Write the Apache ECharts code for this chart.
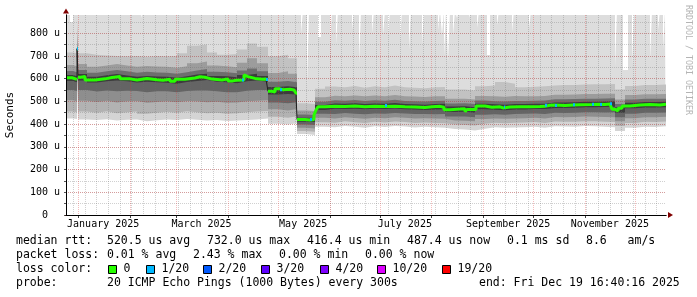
<!DOCTYPE html>
<html><head><meta charset="utf-8">
<script src="https://cdn.jsdelivr.net/npm/echarts@6/dist/echarts.min.js"></script>
<style>html,body{margin:0;padding:0;background:#fff}#c{width:697px;height:297px}</style>
</head><body><div id="c"></div>
<script>
// x values are days since 2025-01-01 00:00 (360-day window ending Fri Dec 19 16:40:16 2025)
const startDay = -7.3056;
const endDay = 352.6944;
const rrdStepDays = 0.6; // consolidation step of the 360-day graph

const yTickValues = [0, 100, 200, 300, 400, 500, 600, 700, 800];
const yMinorValues = [0, 50, 100, 150, 200, 250, 300, 350, 400, 450, 500, 550, 600, 650, 700, 750, 800, 850];
const monthStartDays = [0, 31, 59, 90, 120, 151, 181, 212, 243, 273, 304, 334];
const monthLabelDays = [15, 74, 135, 196, 258, 319];
const monthLabels = ['January 2025', 'March 2025', 'May 2025', 'July 2025', 'September 2025', 'November 2025'];

// smoke columns (left edge, days)
const smokeDays = [-7.3056, -3, -0.7, -0.1, 5, 11, 17, 23, 29, 35, 41, 47, 53, 59, 65, 71, 77, 83, 89, 95, 101, 107,
  114, 120, 126,
  131, 136.5,
  142, 148, 154, 160, 166, 172, 178, 184, 190, 196, 202, 208, 214, 220, 226, 232, 238, 244, 250, 256, 262, 268, 274, 280, 286, 292, 298, 304, 310, 316, 322, 328, 334, 340, 346];

// sorted ping ranks (microseconds)
const rttP1 = [425,422,595,420,418,421,416,419,420,412,417,420,418,422,419,416,418,414,416,418,420,425,
  402,398,404, 356,352,
  388,386,392,388,384,390,387,392,389,385,388,386,384,378,376,372,380,386,384,385,386,388,384,390,389,388,392,390,388,386,370,384,388,387,390];
const rttP3 = [455,452,640,455,450,456,448,452,455,446,450,454,450,456,452,448,450,446,448,452,455,458,
  432,428,435, 370,366,
  408,406,412,408,405,410,407,411,409,405,407,405,404,398,396,394,402,406,404,406,407,409,405,411,410,410,413,412,410,409,392,405,410,409,411];
const rttP5 = [505,500,680,503,497,503,495,500,502,494,497,500,496,502,500,496,498,494,495,500,503,505,
  465,460,466, 384,381,
  428,425,430,427,424,428,426,430,428,425,426,425,424,416,415,412,422,425,423,425,426,428,425,431,430,431,433,432,431,430,412,426,430,430,432];
const rttP7 = [550,546,710,550,543,548,545,547,546,540,544,545,540,546,548,548,545,540,540,547,550,550,
  495,492,496, 398,396,
  446,444,449,446,443,447,445,449,447,444,444,443,444,433,433,430,441,443,441,444,445,447,444,450,449,450,452,452,451,452,430,446,450,450,451];
const rttP9 = [590,584,725,592,583,589,592,588,583,586,584,582,578,585,590,594,586,584,580,588,592,586,
  530,532,530, 410,409,
  462,467,466,468,465,467,466,469,465,464,462,464,465,453,454,450,465,463,461,464,464,466,466,471,471,472,474,474,475,476,450,470,473,473,474];
const rttP12 = [616,610,745,620,608,615,620,614,608,612,609,608,604,610,618,622,612,610,606,616,622,612,
  563,566,562, 428,427,
  484,491,489,492,488,491,489,493,488,487,485,488,489,477,478,474,490,487,485,488,488,489,490,495,495,496,498,498,499,500,474,494,497,497,498];
const rttP14 = [634,628,790,638,626,632,638,632,626,630,627,626,622,628,636,642,630,628,624,636,645,632,
  586,590,584, 442,440,
  498,505,503,506,502,505,503,507,502,501,499,502,503,491,492,488,504,501,499,502,502,503,504,509,509,510,512,512,513,514,488,508,511,511,512];
const rttP16 = [660,654,830,664,652,658,664,658,652,656,653,652,648,655,668,675,658,654,650,670,690,668,
  625,632,622, 460,458,
  518,525,523,526,522,526,523,528,522,521,519,522,523,511,512,508,524,522,520,524,522,523,524,529,529,530,532,532,533,534,508,528,531,531,532];
const rttP18 = [715,712,860,712,705,702,700,698,700,696,700,698,700,712,745,750,715,705,708,728,755,740,
  698,705,690, 492,488,
  556,565,562,568,560,566,562,570,562,560,558,562,563,552,552,548,566,570,585,578,562,564,566,570,572,572,574,575,575,576,552,568,572,572,574];

// max ping: above the chart top (900) except in these short intervals
const maxAbove = 900;
const maxNotchStart = [-4.9, 37.7, 133.7, 137.3, 143.9, 151.1, 154.7, 164.3, 168.5, 176.3, 182.9, 185.9, 193.1, 198.5, 206.3, 215.9, 218.3, 219.5, 221.9, 224.9, 227.3, 234.5, 239.3, 245.3, 251.3, 260.3, 270.5, 322.1, 326.9, 332.3, 343.1, 347.9, 350.9];
const maxNotchEnd   = [-3.4, 38.6, 134.9, 138.5, 145.7, 152.0, 155.6, 165.2, 169.4, 177.2, 183.8, 186.8, 194.0, 199.4, 207.2, 216.8, 219.2, 220.4, 222.8, 225.8, 228.2, 235.4, 240.2, 246.8, 252.2, 261.2, 271.4, 323.0, 329.9, 333.2, 344.0, 348.8, 351.8];
const maxNotchRtt   = [849, 867, 800, 567, 783, 748, 752, 814, 668, 800, 792, 792, 770, 726, 748, 814, 792, 695, 673, 792, 867, 867, 823, 704, 836, 805, 822, 651, 638, 660, 673, 814, 726];

// median rtt
const medDays = [-7.3056, -3.7, -0.7, -0.1, 1.7, 4.1, 10.1, 16.1, 20.3, 25.1, 31.1, 35.3, 41.3, 47.3, 50.9, 55.1, 58.1, 64.1, 70.1, 73.1, 76.1, 80.3, 86.3, 89.9, 92.9, 94.7, 99.5, 100.7, 101.9, 106.1, 110.3, 112.7, 114, 116.3, 118.1, 121.1, 122.9, 127.1, 129.5, 130.4, 131.1, 136.1, 139.1, 141.5, 142.7, 143.9, 148.1, 154.1, 160.1, 166.1, 172.1, 178.1, 184.1, 185.3, 190.1, 196.1, 202.1, 208.1, 212.3, 217.1, 219.5, 223.1, 229.1, 232.1, 233.3, 238.7, 244.1, 248.3, 253.1, 254.9, 259.1, 265.1, 271.1, 277.1, 280.1, 283.1, 286.1, 292.1, 296.9, 301.1, 308.3, 313.1, 316.1, 319.1, 320.3, 322.1, 323.9, 326.3, 331.1, 337.1, 343.1, 349.1];
const medRtt = [604, 597, 732, 606, 609, 594, 599, 605, 609, 599, 594, 601, 595, 593, 597, 588, 597, 603, 608, 606, 598, 594, 599, 590, 593, 594, 616, 609, 601, 597, 598, 596, 544, 541, 555, 551, 553, 550, 546, 536, 420, 418, 420, 440, 462, 476, 479, 477, 480, 476, 479, 477, 482, 478, 476, 475, 473, 476, 478, 474, 463, 466, 468, 455, 464, 480, 474, 476, 471, 475, 476, 476, 477, 478, 483, 484, 482, 484, 485, 486, 487, 486, 488, 489, 465, 458, 470, 480, 484, 486, 484, 487];

// intervals with 1/20 loss
const lossStart = [-0.7, 98.5, 112.7, 121.1, 139.1, 184.1, 255.2, 280.1, 286.1, 296.9, 308.3, 313.1, 319.1];
const lossEnd   = [-0.1, 99.3, 113.6, 122.0, 140.0, 185.0, 256.0, 281.0, 287.0, 297.8, 309.2, 314.0, 320.0];
const lossRtt   = [732, 594, 596, 551, 420, 482, 475, 483, 482, 485, 487, 486, 489];

// legend / statistics text
const legendRtt = ['median rtt:', '520.5 us avg', '732.0 us max', '416.4 us min', '487.4 us now', '0.1 ms sd', '8.6   am/s'];
const legendLoss = ['packet loss:', '0.01 % avg', '2.43 % max', '0.00 % min', '0.00 % now'];
const lossColorLabels = ['0', '1/20', '2/20', '3/20', '4/20', '10/20', '19/20'];
const lossColors = ['#26ff00', '#00b8ff', '#0059ff', '#5e00ff', '#7e00ff', '#dd00ff', '#ff0000'];
const probeText = ['probe:', '20 ICMP Echo Pings (1000 Bytes) every 300s', 'end: Fri Dec 19 16:40:16 2025'];

// ---------- build ----------
const FONT = '"DejaVu Sans Mono", monospace';
const weekDays = [];
for (let d = -3; d <= endDay; d += 7) weekDays.push(d);

// align a time to the RRD consolidation step boundaries
function snap(d) { return startDay + Math.round((d - startDay) / rrdStepDays) * rrdStepDays; }

function stepData(days, vals, breakJump) {
  const out = [];
  for (let i = 0; i < days.length; i++) {
    out.push([snap(days[i]), vals[i]]);
    if (breakJump && i + 1 < days.length && Math.abs(vals[i + 1] - vals[i]) > breakJump) {
      out.push([snap(days[i + 1]), vals[i]]);
      out.push([snap(days[i + 1]), null]);
    }
  }
  out.push([endDay, vals[vals.length - 1]]);
  return out;
}
function maxData() {
  const out = [[startDay, maxAbove]];
  for (let i = 0; i < maxNotchStart.length; i++) {
    out.push([snap(maxNotchStart[i]), maxNotchRtt[i]]);
    out.push([snap(maxNotchEnd[i]), maxAbove]);
  }
  out.push([endDay, maxAbove]);
  return out;
}
function lossData() {
  const out = [];
  for (let i = 0; i < lossStart.length; i++) {
    out.push([snap(lossStart[i]), lossRtt[i]]);
    out.push([snap(lossEnd[i]), lossRtt[i]]);
    out.push([snap(lossEnd[i]), null]);
  }
  return out;
}
function smokeSeries(data, color) {
  return {
    type: 'line', step: 'end', data: data, xAxisIndex: 0, yAxisIndex: 0,
    symbol: 'none', showSymbol: false, z: 1, silent: true,
    lineStyle: { width: 0, opacity: 0 }, areaStyle: { color: color, opacity: 1, origin: 'start' }
  };
}

const layers = [
  [maxData(), '#dddddd'],
  [stepData(smokeDays, rttP18), '#c2c2c2'],
  [stepData(smokeDays, rttP16), '#9c9c9c'],
  [stepData(smokeDays, rttP14), '#6e6e6e'],
  [stepData(smokeDays, rttP12), '#3c3c3c'],
  [stepData(smokeDays, rttP9), '#646464'],
  [stepData(smokeDays, rttP7), '#8e8e8e'],
  [stepData(smokeDays, rttP5), '#b2b2b2'],
  [stepData(smokeDays, rttP3), '#d4d4d4'],
  [stepData(smokeDays, rttP1), '#ffffff']
];
const series = layers.map(l => smokeSeries(l[0], l[1]));
series.push({
  type: 'line', step: 'end', data: stepData(medDays, medRtt), symbol: 'none', z: 5, silent: true,
  lineStyle: { width: 1, color: '#202020' }
});
series.push({
  type: 'line', step: 'end', data: stepData(medDays, medRtt, 40), symbol: 'none', z: 5, silent: true,
  lineStyle: { width: 3, color: lossColors[0] }
});
series.push({
  type: 'line', data: lossData(), symbol: 'none', z: 5, silent: true,
  lineStyle: { width: 3, color: lossColors[1] }
});

const grayGrid = { color: 'rgba(110,110,110,0.32)', width: 1, type: [1, 1] };
const redGrid = { color: 'rgba(222,48,48,0.32)', width: 1, type: [1, 1] };

function hiddenAxis(extra) {
  return Object.assign({
    type: 'value', axisLine: { show: false, onZero: false }, axisLabel: { show: false },
    axisTick: { show: false }, splitLine: { show: false }
  }, extra);
}

const xAxes = [
  {
    type: 'value', min: startDay, max: endDay, position: 'bottom', z: 6,
    axisLine: { show: true, onZero: false, lineStyle: { color: '#000', width: 1 } },
    axisTick: { show: false, customValues: monthLabelDays },
    axisLabel: {
      customValues: monthLabelDays, fontFamily: FONT, fontSize: 10, color: '#000', margin: 4,
      formatter: function (v) {
        let best = 0;
        for (let i = 1; i < monthLabelDays.length; i++)
          if (Math.abs(monthLabelDays[i] - v) < Math.abs(monthLabelDays[best] - v)) best = i;
        return monthLabels[best];
      }
    },
    splitLine: { show: false }
  },
  hiddenAxis({ min: startDay, max: endDay, position: 'bottom', z: 3,
    axisTick: { show: false, customValues: weekDays }, splitLine: { show: true, lineStyle: grayGrid } }),
  hiddenAxis({ min: startDay, max: endDay, position: 'bottom', z: 4,
    axisTick: { show: true, length: 3, customValues: monthStartDays, lineStyle: { color: '#444' } },
    splitLine: { show: true, lineStyle: redGrid } }),
  hiddenAxis({ min: startDay, max: endDay, position: 'bottom', z: 5,
    axisLine: { show: true, onZero: false, symbol: ['none', 'triangle'], symbolSize: [6, 5], symbolOffset: [0, 4.5],
      lineStyle: { color: '#800000', width: 1 } } })
];

const yAxes = [
  {
    type: 'value', min: 0, max: 880, position: 'left', z: 6,
    name: 'Seconds', nameLocation: 'middle', nameGap: 50,
    nameTextStyle: { fontFamily: FONT, fontSize: 11, color: '#000' },
    axisLine: { show: true, onZero: false, lineStyle: { color: '#000', width: 1 } },
    axisTick: { show: false, customValues: yTickValues },
    axisLabel: {
      customValues: yTickValues, fontFamily: FONT, fontSize: 10, color: '#000', margin: 6,
      formatter: function (v) { return v === 0 ? '0  ' : v + ' u'; }
    },
    splitLine: { show: false }
  },
  hiddenAxis({ min: 0, max: 880, position: 'left', z: 3,
    axisTick: { show: true, length: 2, customValues: yMinorValues, lineStyle: { color: '#555' } },
    splitLine: { show: true, lineStyle: grayGrid } }),
  hiddenAxis({ min: 0, max: 880, position: 'left', z: 4,
    axisTick: { show: false, customValues: yTickValues },
    splitLine: { show: true, lineStyle: redGrid } }),
  hiddenAxis({ min: 0, max: 880, position: 'left', z: 5,
    axisLine: { show: true, onZero: false, symbol: ['none', 'triangle'], symbolSize: [6, 5], symbolOffset: [0, 4],
      lineStyle: { color: '#800000', width: 1 } } })
];

// legend graphics
const textFont = '11.5px ' + FONT;
function txt(x, y, s, extra) {
  return Object.assign({
    type: 'text', x: x, y: y, silent: true,
    style: { text: s, font: textFont, fill: '#000', align: 'left', verticalAlign: 'middle',
      textAlign: 'left', textVerticalAlign: 'middle' }
  }, extra || {});
}
const graphic = [];
const rttX = [16, 107, 207, 307, 407, 507, 586];
legendRtt.forEach((s, i) => graphic.push(txt(rttX[i], 241.5, s)));
const lossX = [16, 107, 193, 279, 365];
legendLoss.forEach((s, i) => graphic.push(txt(lossX[i], 255.3, s)));
graphic.push(txt(16, 269.2, 'loss color:'));
const boxX = [108.5, 146.5, 203.5, 261.5, 320.5, 377.5, 442.5];
lossColorLabels.forEach((s, i) => {
  graphic.push({ type: 'rect', silent: true, shape: { x: boxX[i], y: 265.5, width: 8, height: 8 },
    style: { fill: lossColors[i], stroke: '#000', lineWidth: 1 } });
  graphic.push(txt(boxX[i] + 15, 269.2, s));
});
graphic.push(txt(16, 283, probeText[0]));
graphic.push(txt(107, 283, probeText[1]));
graphic.push(txt(479, 283, probeText[2]));
graphic.push({
  type: 'text', x: 688, y: 5, rotation: -Math.PI / 2, silent: true,
  style: { text: 'RRDTOOL / TOBI OETIKER', font: '8.3px ' + FONT, fill: '#b4b4b4',
    align: 'left', verticalAlign: 'middle', textAlign: 'left', textVerticalAlign: 'middle' }
});

const chart = echarts.init(document.getElementById('c'), null, { renderer: 'canvas' });
chart.setOption({
  animation: false,
  backgroundColor: '#ffffff',
  grid: { left: 66, top: 15, width: 600, height: 200, containLabel: false, outerBoundsMode: 'none' },
  xAxis: xAxes,
  yAxis: yAxes,
  series: series,
  graphic: graphic
});
</script></body></html>
